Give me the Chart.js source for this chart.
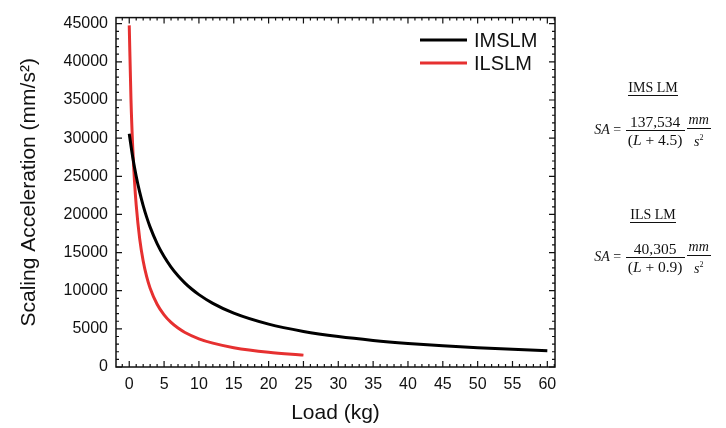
<!DOCTYPE html>
<html>
<head>
<meta charset="utf-8">
<script src="https://cdn.jsdelivr.net/npm/chart.js@4.4.1/dist/chart.umd.min.js"></script>
<style>
  body { margin: 0; background: #fff; }
  #wrap { position: relative; width: 726px; height: 428px; }
  .eq { position: absolute; left: 580px; width: 146px; text-align: center;
        font-family: "Liberation Serif", "Times New Roman", serif; font-size: 14px; color: #111; }
  .ttl { display: inline-block; border-bottom: 1px solid #111; line-height: 15px; }
  .row { margin-top: 15px; white-space: nowrap; }
  .frac { display: inline-flex; flex-direction: column; vertical-align: middle; text-align: center; margin: 0 1px; }
  .num { border-bottom: 1px solid #111; padding: 0 2px; line-height: 17px; }
  .den { padding: 0 2px; line-height: 17px; }
  .big { font-size: 15.5px; }
  sup { font-size: 8px; vertical-align: 6px; }
</style>
</head>
<body>
<div id="wrap">
  <canvas id="saChart" width="726" height="428"></canvas>
  <div class="eq" style="top:80px">
    <div class="ttl">IMS LM</div>
    <div class="row"><i>SA</i> = <span class="frac big"><span class="num">137,534</span><span class="den">(<i>L</i> + 4.5)</span></span><span class="frac"><span class="num"><i>mm</i></span><span class="den"><i>s</i><sup>2</sup></span></span></div>
  </div>
  <div class="eq" style="top:207px">
    <div class="ttl">ILS LM</div>
    <div class="row"><i>SA</i> = <span class="frac big"><span class="num">40,305</span><span class="den">(<i>L</i> + 0.9)</span></span><span class="frac"><span class="num"><i>mm</i></span><span class="den"><i>s</i><sup>2</sup></span></span></div>
  </div>
</div>
<script>
// values (load in kg, acceleration in mm/s^2)
const imsLoad  = [0, 0.5, 1, 1.5, 2, 2.5, 3, 4, 5, 6, 7, 8, 9, 10, 12, 15, 20, 25, 30, 35, 40, 45, 50, 55, 60];
const imsAccel = [30563, 27507, 25006, 22922, 21159, 19648, 18338, 16180, 14477, 13098, 11960, 11003, 10188, 9485, 8335, 7053, 5614, 4662, 3987, 3482, 3091, 2779, 2524, 2312, 2132];

const ilsLoad  = [0, 0.25, 0.5, 0.75, 1, 1.5, 2, 2.5, 3, 4, 5, 6, 7, 8, 10, 12, 15, 20, 25];
const ilsAccel = [44783, 35048, 28789, 24427, 21213, 16794, 13898, 11854, 10335, 8226, 6831, 5841, 5102, 4529, 3698, 3124, 2535, 1928, 1556];

const xTicks = [0, 5, 10, 15, 20, 25, 30, 35, 40, 45, 50, 55, 60];
const yTicks = [0, 5000, 10000, 15000, 20000, 25000, 30000, 35000, 40000, 45000];

const FONT = '"Liberation Sans", Arial, sans-serif';

// frame with inward ticks on all four sides + legend in the top right
const framePlugin = {
  id: 'frame',
  afterDatasetsDraw(chart) {
    const { ctx, chartArea: a, scales: { x, y } } = chart;
    ctx.save();
    ctx.strokeStyle = '#111';
    ctx.lineWidth = 1.5;
    ctx.strokeRect(a.left, a.top, a.right - a.left, a.bottom - a.top);
    ctx.lineWidth = 1.2;
    ctx.beginPath();
    for (let v = -1; v <= 61; v++) {
      const px = x.getPixelForValue(v);
      const len = v % 5 === 0 ? 6 : 3;
      ctx.moveTo(px, a.bottom); ctx.lineTo(px, a.bottom - len);
      ctx.moveTo(px, a.top); ctx.lineTo(px, a.top + len);
    }
    for (let v = 0; v <= 45000; v += 1000) {
      const py = y.getPixelForValue(v);
      const len = v % 5000 === 0 ? 6 : 3;
      ctx.moveTo(a.left, py); ctx.lineTo(a.left + len, py);
      ctx.moveTo(a.right, py); ctx.lineTo(a.right - len, py);
    }
    ctx.stroke();

    // legend
    ctx.font = '20px ' + FONT;
    ctx.textBaseline = 'middle';
    chart.data.datasets.forEach((ds, i) => {
      const ly = 40 + i * 23;
      ctx.strokeStyle = ds.borderColor;
      ctx.lineWidth = 3;
      ctx.beginPath();
      ctx.moveTo(420, ly); ctx.lineTo(467, ly);
      ctx.stroke();
      ctx.fillStyle = '#111';
      ctx.fillText(ds.label, 474, ly + 1);
    });
    ctx.restore();
  }
};

new Chart(document.getElementById('saChart'), {
  type: 'line',
  data: {
    datasets: [
      {
        label: 'IMSLM',
        data: imsLoad.map((l, i) => ({ x: l, y: imsAccel[i] })),
        borderColor: '#000000',
        borderWidth: 3,
        pointRadius: 0,
        cubicInterpolationMode: 'monotone'
      },
      {
        label: 'ILSLM',
        data: ilsLoad.map((l, i) => ({ x: l, y: ilsAccel[i] })),
        borderColor: '#e63030',
        borderWidth: 3,
        pointRadius: 0,
        cubicInterpolationMode: 'monotone'
      }
    ]
  },
  options: {
    responsive: false,
    animation: false,
    layout: { padding: { top: 12, right: 171, left: 0, bottom: 0 } },
    plugins: { legend: { display: false }, tooltip: { enabled: false } },
    scales: {
      x: {
        type: 'linear',
        min: -1.9,
        max: 61.1,
        afterBuildTicks: s => { s.ticks = xTicks.map(v => ({ value: v })); },
        afterFit: s => { s.height = 61; },
        grid: { display: false, drawTicks: false },
        border: { display: false },
        ticks: { color: '#111', font: { family: FONT, size: 16 }, padding: 8, maxRotation: 0 },
        title: { display: true, text: 'Load (kg)', color: '#111', font: { family: FONT, size: 21 }, padding: { top: 0, bottom: 2 } }
      },
      y: {
        min: 0,
        max: 45800,
        afterBuildTicks: s => { s.ticks = yTicks.map(v => ({ value: v })); },
        afterFit: s => { s.width = 116; },
        grid: { display: false, drawTicks: false },
        border: { display: false },
        ticks: { color: '#111', font: { family: FONT, size: 16 }, padding: 8, callback: v => String(v) },
        title: { display: true, text: 'Scaling Acceleration (mm/s²)', color: '#111', font: { family: FONT, size: 21 }, padding: { top: 17, bottom: 0 } }
      }
    }
  },
  plugins: [framePlugin]
});
</script>
</body>
</html>
